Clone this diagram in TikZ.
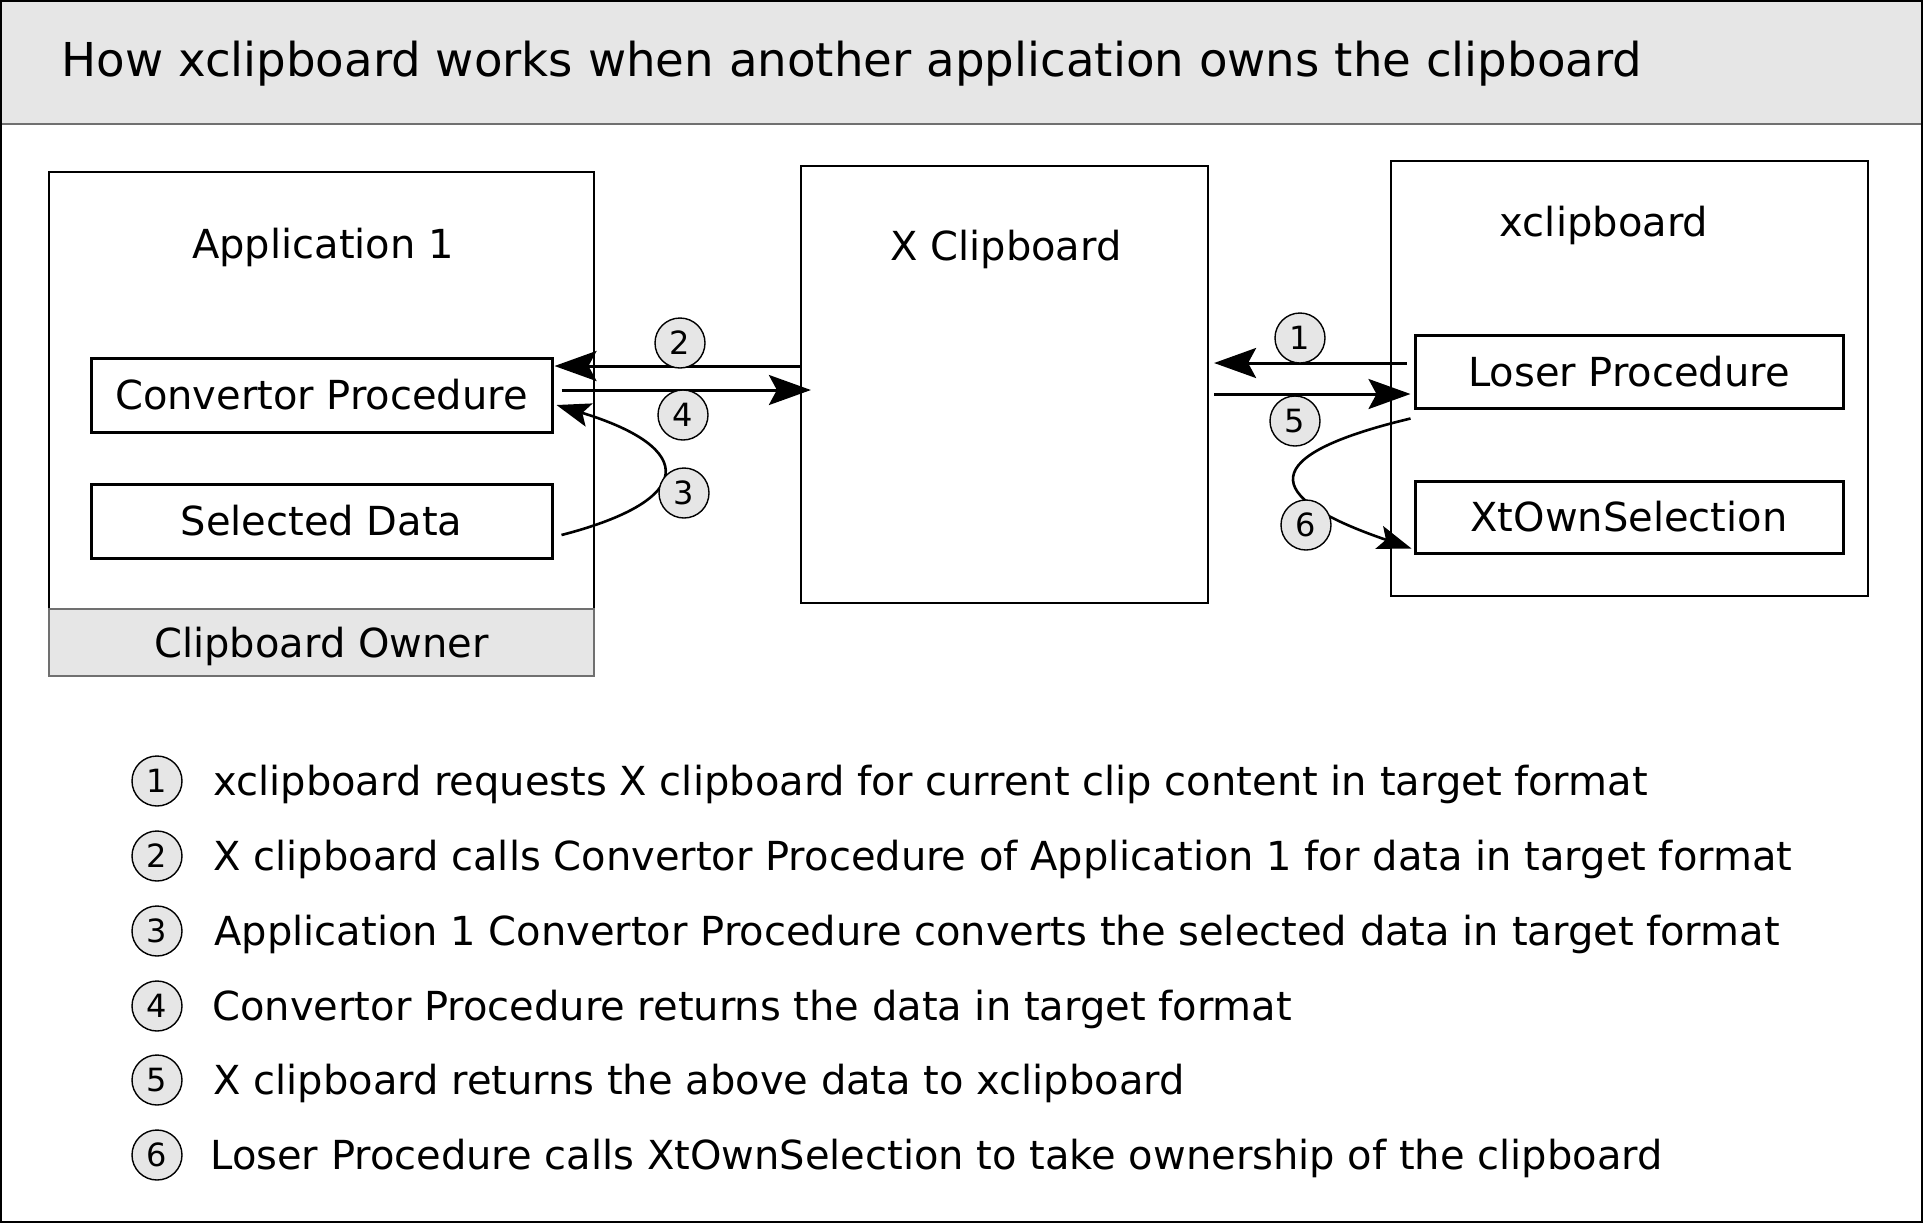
\documentclass[tikz,border=0pt]{standalone}
\usepackage{fontspec}
\setmainfont{DejaVu Sans}
\usetikzlibrary{arrows.meta,calc}
\definecolor{lg}{HTML}{E6E6E6}
\definecolor{edgegray}{HTML}{707070}
\begin{document}
\begin{tikzpicture}[x=0.5pt,y=-0.5pt,
  lbl/.style={font=\fontsize{20}{24}\selectfont},
  outerbox/.style={draw, line width=1.1pt, inner sep=0pt},
  procbox/.style={draw, line width=1.5pt, inner sep=0pt, font=\fontsize{20}{24}\selectfont, text height=14.6pt, text depth=0pt},
  num/.style={circle, draw, fill=lg, line width=0.7pt, minimum size=25pt, inner sep=0pt, font=\fontsize{16}{18}\selectfont, text height=11.7pt, text depth=0pt},
  legtext/.style={anchor=west, inner sep=0pt, font=\fontsize{20}{24}\selectfont, text height=14.6pt, text depth=0pt},
  arr/.style={line width=1.5pt, -{Stealth[length=21pt, width=15pt, inset=4pt]}},
  carr/.style={line width=1.3pt, -{Stealth[length=17pt, width=12pt, inset=3.5pt]}}]
\useasboundingbox (0,0) rectangle (1923,1223);
% title band
\fill[lg] (1,1) rectangle (1922,124);
\draw[edgegray, line width=0.6pt] (1,124) -- (1922,124);
\node[anchor=base west, inner sep=0pt, font=\fontsize{23.35}{28}\selectfont] (title) at (61,76) {How xclipboard works when another application owns the clipboard};
% Application 1
\node[outerbox, minimum width=272.5pt, minimum height=219pt] (app) at (321.5,391) {};
\node[lbl, anchor=base] (applbl) at (323,258) {Application 1};
\node[draw=edgegray, fill=lg, line width=0.6pt, minimum width=272.5pt, minimum height=33.5pt, inner sep=0pt, font=\fontsize{20}{24}\selectfont, text height=14.6pt, text depth=0pt] (owner) at (321.5,642.5) {Clipboard Owner};
\node[procbox, minimum width=230.5pt, minimum height=37pt] (conv) at (321.5,395) {Convertor Procedure};
\node[procbox, minimum width=230.5pt, minimum height=37pt] (sel) at (321.5,521) {Selected Data};
% X Clipboard
\node[outerbox, minimum width=203.5pt, minimum height=218.5pt] (xclip) at (1004.5,384.5) {};
\node[lbl, anchor=base] (xcliplbl) at (1006,260) {X Clipboard};
% xclipboard
\node[outerbox, minimum width=238.5pt, minimum height=217.5pt] (xcb) at (1629.5,378.5) {};
\node[lbl, anchor=base] (xcblbl) at (1604,236) {xclipboard};
\node[procbox, minimum width=214pt, minimum height=36.5pt] (loser) at (1629,371.5) {Loser Procedure};
\node[procbox, minimum width=214pt, minimum height=36pt] (xtown) at (1629,517) {XtOwnSelection};
% arrows
\draw[arr] (xclip.west |- 0,366) -- ($(conv.east |- 0,366)+(1,0)$);
\draw[arr] ($(conv.east |- 0,390)+(8,0)$) -- ($(xclip.west |- 0,390)+(11,0)$);
\draw[carr] ($(sel.east)+(8,14)$) .. controls (697,500) and (697,448) .. ($(conv.east)+(3,10)$);
\draw[arr] ($(loser.west |- 0,363)+(-7,0)$) -- ($(xclip.east |- 0,363)+(5,0)$);
\draw[arr] ($(xclip.east |- 0,394)+(5,0)$) -- ($(loser.west |- 0,394)+(-3,0)$);
\draw[carr] ($(loser.south west)+(-3,9)$) .. controls (1258,455) and (1258,496) .. ($(xtown.south west)+(-2,-6)$);
% step numbers
\node[num] (c1) at (1300,338) {1};
\node[num] (c2) at (680,343) {2};
\node[num] (c3) at (684,493) {3};
\node[num] (c4) at (683,415) {4};
\node[num] (c5) at (1295,421) {5};
\node[num] (c6) at (1306,525) {6};
% legend
\node[num] (l1) at (157,781) {1};
\node[num] (l2) at (157,856) {2};
\node[num] (l3) at (157,931) {3};
\node[num] (l4) at (157,1006) {4};
\node[num] (l5) at (157,1080) {5};
\node[num] (l6) at (157,1155) {6};
\node[legtext] (t1) at (213,781) {xclipboard requests X clipboard for current clip content in target format};
\node[legtext] (t2) at (213,856) {X clipboard calls Convertor Procedure of Application 1 for data in target format};
\node[legtext] (t3) at (214,931) {Application 1 Convertor Procedure converts the selected data in target format};
\node[legtext] (t4) at (212,1006) {Convertor Procedure returns the data in target format};
\node[legtext] (t5) at (213,1080) {X clipboard returns the above data to xclipboard};
\node[legtext] (t6) at (210,1155) {Loser Procedure calls XtOwnSelection to take ownership of the clipboard};
% outer frame
\draw[line width=1pt] (1,1) rectangle (1922,1222);
\end{tikzpicture}
\end{document}
